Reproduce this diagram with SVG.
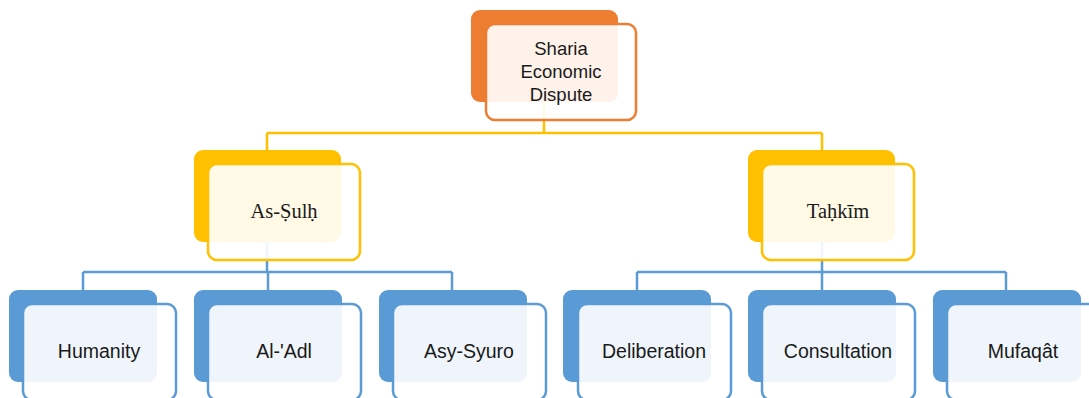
<svg xmlns="http://www.w3.org/2000/svg" width="1089" height="398" viewBox="0 0 1089 398">
<style>
.back{stroke:none}
.front{fill:#ffffff;fill-opacity:0.9;stroke-width:2.5}
.o .back{fill:#ED7D31}.o .front{stroke:#ED7D31}
.y .back{fill:#FFC000}.y .front{stroke:#FFC000}
.b .back{fill:#5B9BD5}.b .front{stroke:#5B9BD5}
.lbl{font-family:"Liberation Sans","DejaVu Sans",sans-serif;font-size:18.5px;fill:#1a1a1a;text-anchor:middle}
.l3{font-size:19.5px}
.ser{font-family:"Liberation Serif","DejaVu Serif",serif;font-size:20.5px;fill:#1a1a1a;text-anchor:middle}
.cy{stroke:#FFC000;stroke-width:2.5;fill:none}
.cb{stroke:#5B9BD5;stroke-width:2.5;fill:none}
</style>
<rect width="1089" height="398" fill="#ffffff"/>
<g id="connectors">
<path class="cy" d="M544 102V133M267 133H822M267 133V150M822 133V150"/>
<path class="cb" d="M267 242V272M83 272H452M83 272V290M268 272V290M452 272V290"/>
<path class="cb" d="M822 242V272M637 272H1006M637 272V290M822 272V290M1006 272V290"/>
</g>
<g id="n-sharia" class="o">
<rect class="back" x="471" y="10" width="147" height="92" rx="9"/>
<rect class="front" x="486" y="24" width="150" height="96" rx="9"/>
<text class="lbl" x="561" y="55">Sharia</text>
<text class="lbl" x="561" y="78">Economic</text>
<text class="lbl" x="561" y="101">Dispute</text>
</g>
<g id="n-sulh" class="y">
<rect class="back" x="194" y="150" width="147" height="92" rx="9"/>
<rect class="front" x="208" y="164" width="152" height="96" rx="9"/>
<text class="ser" x="284" y="218">As-Ṣulḥ</text>
</g>
<g id="n-tahkim" class="y">
<rect class="back" x="748" y="150" width="147" height="92" rx="9"/>
<rect class="front" x="762" y="164" width="152" height="96" rx="9"/>
<text class="ser" x="838" y="218">Taḥkīm</text>
</g>
<g id="n-humanity" class="b">
<rect class="back" x="9" y="290" width="148" height="92" rx="9"/>
<rect class="front" x="23" y="304" width="153" height="96" rx="9"/>
<text class="lbl l3" x="99" y="358">Humanity</text>
</g>
<g id="n-aladl" class="b">
<rect class="back" x="194" y="290" width="148" height="92" rx="9"/>
<rect class="front" x="208" y="304" width="153" height="96" rx="9"/>
<text class="lbl l3" x="284" y="358">Al-'Adl</text>
</g>
<g id="n-asysyuro" class="b">
<rect class="back" x="379" y="290" width="148" height="92" rx="9"/>
<rect class="front" x="393" y="304" width="153" height="96" rx="9"/>
<text class="lbl l3" x="469" y="358">Asy-Syuro</text>
</g>
<g id="n-deliberation" class="b">
<rect class="back" x="563" y="290" width="148" height="92" rx="9"/>
<rect class="front" x="578" y="304" width="153" height="96" rx="9"/>
<text class="lbl l3" x="654" y="358">Deliberation</text>
</g>
<g id="n-consultation" class="b">
<rect class="back" x="748" y="290" width="148" height="92" rx="9"/>
<rect class="front" x="762" y="304" width="153" height="96" rx="9"/>
<text class="lbl l3" x="838" y="358">Consultation</text>
</g>
<g id="n-mufaqat" class="b">
<rect class="back" x="933" y="290" width="148" height="92" rx="9"/>
<rect class="front" x="947" y="304" width="153" height="96" rx="9"/>
<text class="lbl l3" x="1023" y="358">Mufaqât</text>
</g>
</svg>
